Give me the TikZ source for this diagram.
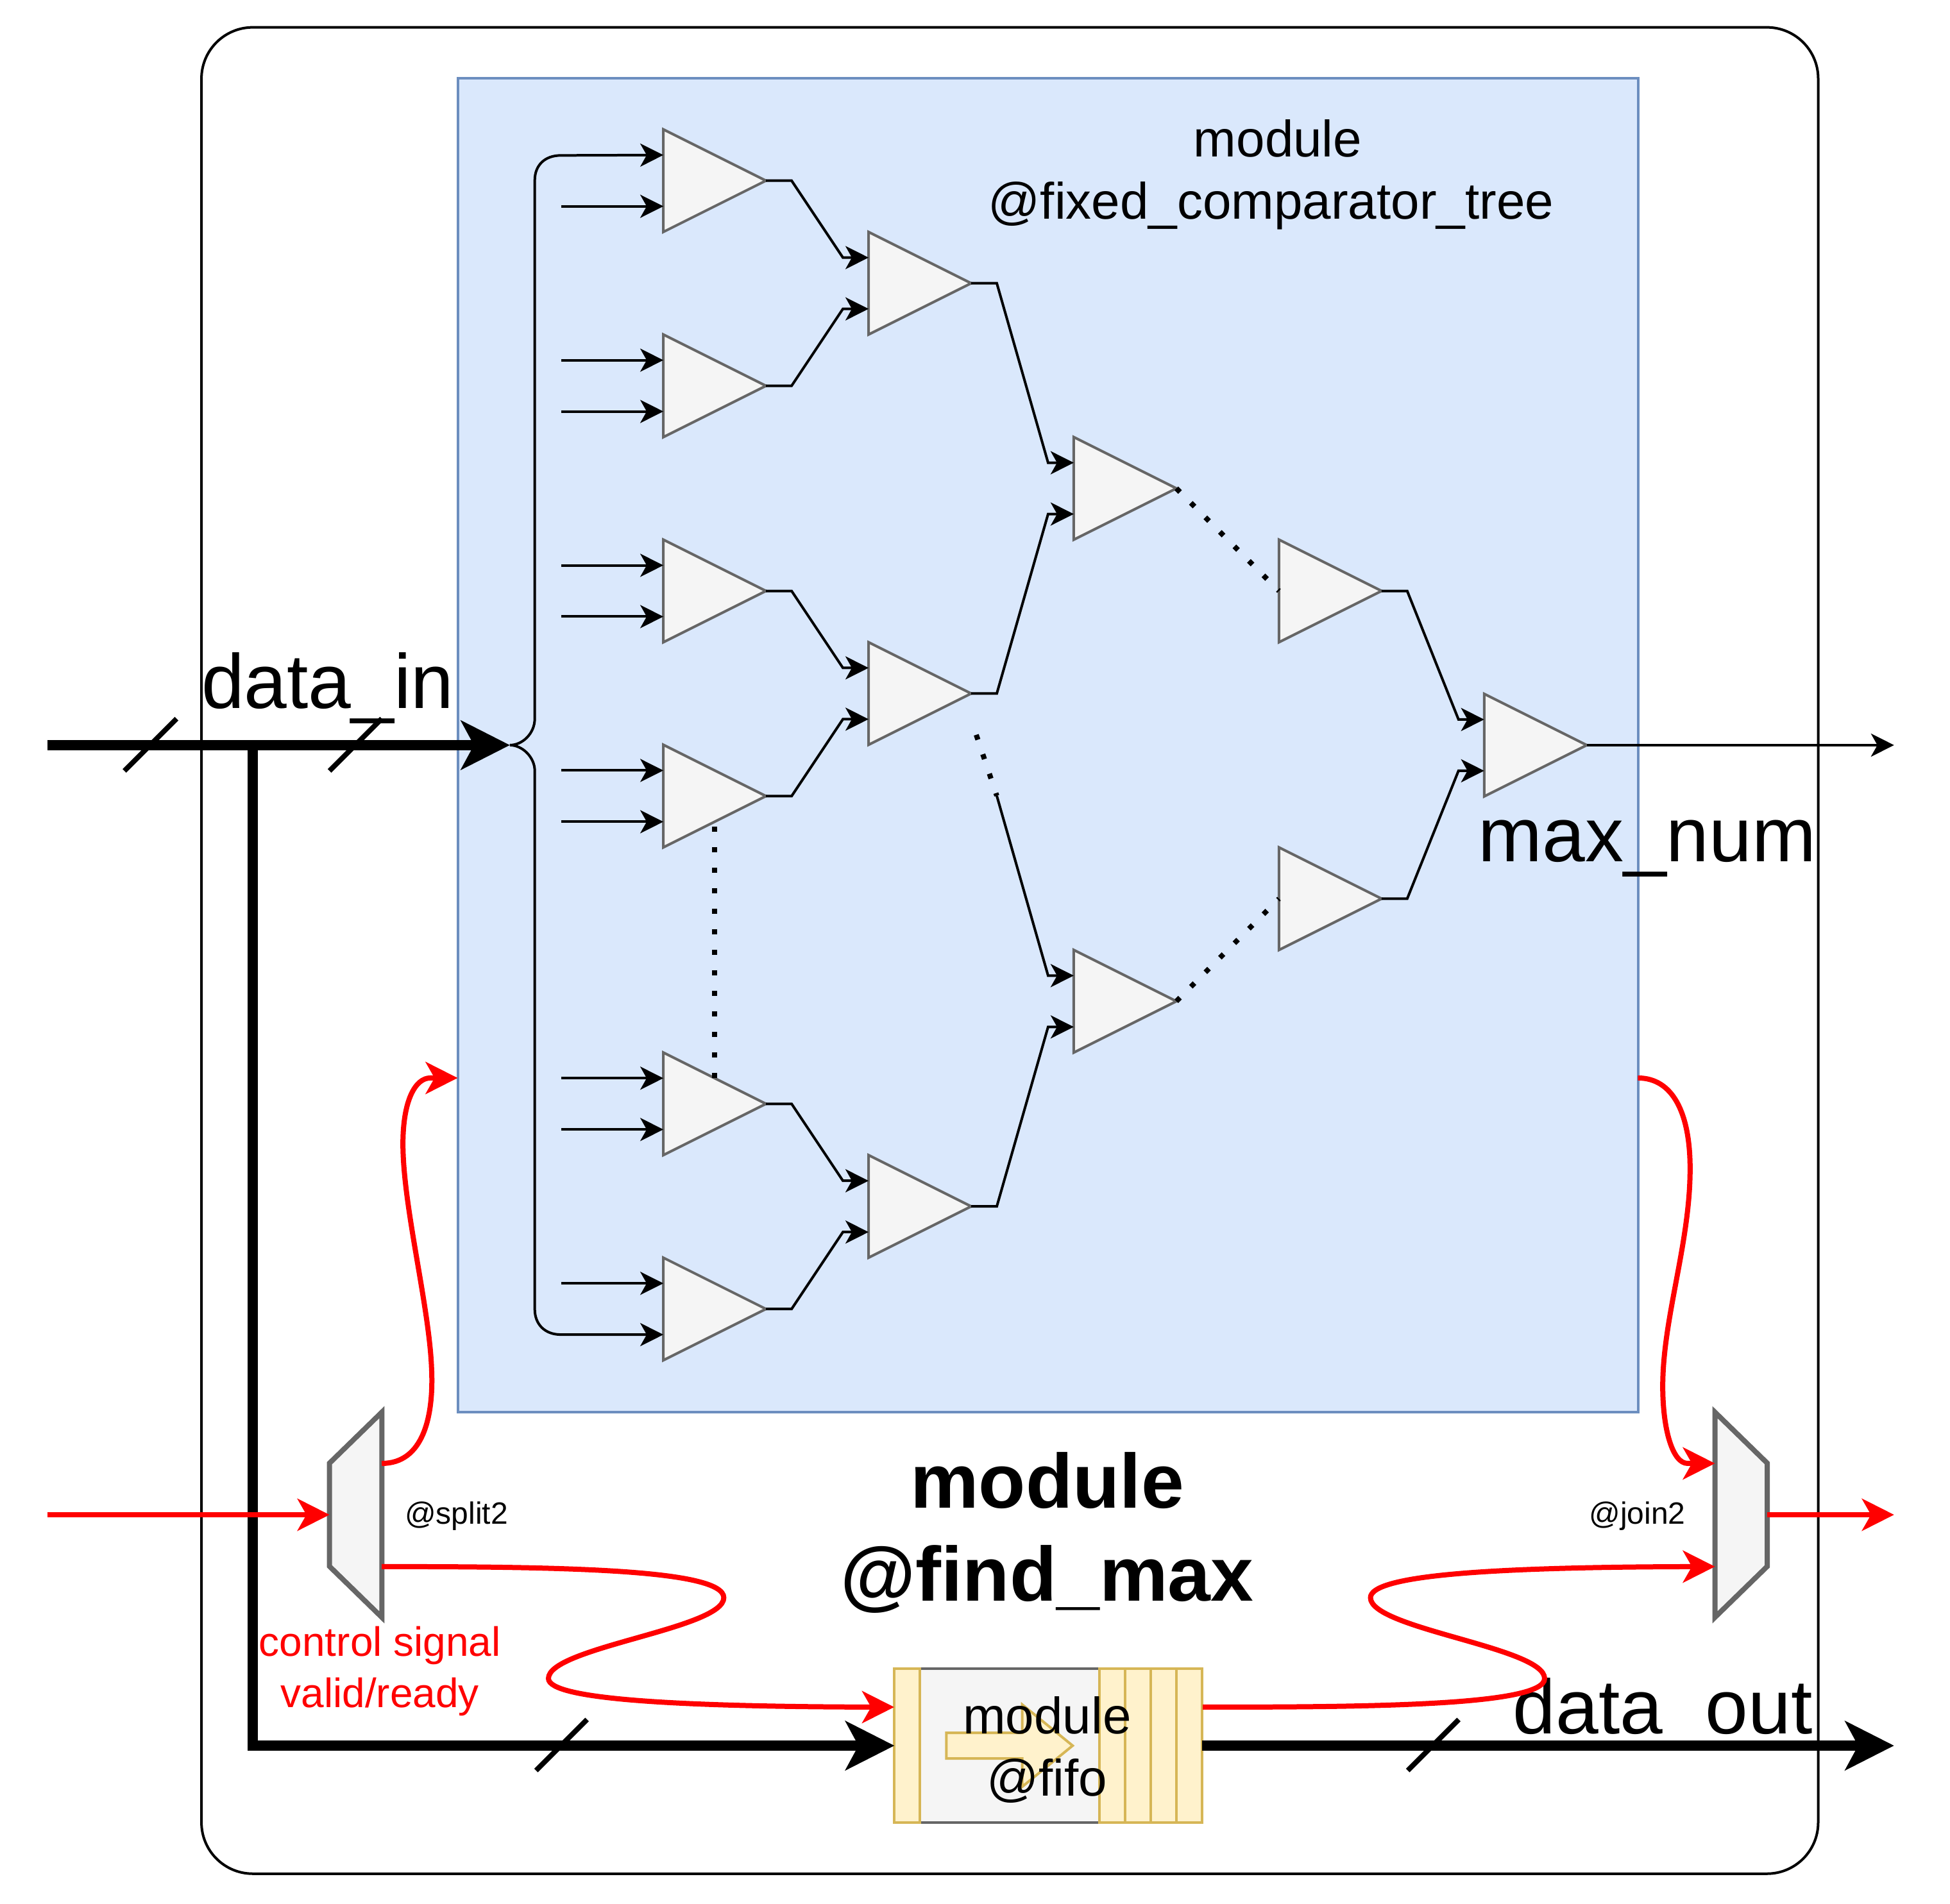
\documentclass[tikz,border=0pt]{standalone}
\usepackage{fontspec}
\setmainfont{Liberation Sans}
\usetikzlibrary{arrows.meta,calc,bending}
\newcommand{\fsz}[1]{\fontsize{#1}{#1}\selectfont}
\definecolor{blueF}{HTML}{DAE8FC}
\definecolor{blueS}{HTML}{6C8EBF}
\definecolor{grayF}{HTML}{F5F5F5}
\definecolor{grayS}{HTML}{666666}
\definecolor{yelF}{HTML}{FFF2CC}
\definecolor{yelS}{HTML}{D6B656}
\tikzset{
  x=0.484848pt,y=-0.484848pt,
  thinarrow/.style={-{Stealth[length=9pt,width=9pt,inset=2.5pt,flex=0]},line width=1pt,black},
  thinline/.style={line width=1pt,black},
  busline/.style={line width=4pt,black},
  busarrow/.style={-{Stealth[length=19pt,width=19pt,inset=5pt]},line width=4pt,black},
  redarrow/.style={-{Stealth[length=12.5pt,width=12.5pt,inset=3.5pt,flex=0]},line width=2pt,red},
  redline/.style={line width=2pt,red},
  tick/.style={line width=2pt,black},
  dots/.style={line width=2pt,black,dash pattern=on 2pt off 6pt},
  trianchor/.style={inner sep=0,outer sep=0,minimum width=40pt,minimum height=40pt},
  tribody/.style={draw=grayS,fill=grayF,line width=1pt,line join=miter},
  muxanchor/.style={inner sep=0,outer sep=0,minimum width=20.4pt,minimum height=80pt},
  muxbody/.style={draw=grayS,fill=grayF,line width=2pt,line join=miter},
  cell/.style={draw=yelS,fill=yelF,line width=1pt,inner sep=0,outer sep=0,minimum width=10pt,minimum height=60pt},
  label/.style={inner sep=0,outer sep=0,anchor=base,align=center},
}
% triangle comparator
\newcommand{\tri}[3]{%
  \node[trianchor] (#1) at (#2,#3) {};
  \draw[tribody] (#1.north west) -- (#1.east) -- (#1.south west) -- cycle;
  \coordinate (#1a) at ($(#1.west)+(0,10pt)$);
  \coordinate (#1b) at ($(#1.west)+(0,-10pt)$);
}
% free input
\newcommand{\inp}[1]{%
  \coordinate (f#1) at ($(#1)+(-82,0)$);
  \draw[thinarrow] (f#1) -- (#1);
}
% comparator output to comparator input
\newcommand{\lnk}[2]{%
  \draw[thinarrow] (#1.east) -- ++(10pt,0) -- ($(#2)+(-10pt,0)$) -- (#2);
}
\begin{document}
\begin{tikzpicture}
\useasboundingbox (0,0) rectangle (1568,1530.9);
\fill[white] (0,0) rectangle (1568,1530.9);
% enclosing module
\node[draw=black,line width=1pt,rounded corners=20pt,inner sep=0,outer sep=0,minimum width=630.3pt,minimum height=720pt] (outer) at (812,764.5) {};
% comparator tree module
\node[draw=blueS,fill=blueF,line width=1pt,inner sep=0,outer sep=0,minimum width=460pt,minimum height=520.1pt] (tree) at (842.7,599.3) {};
% labels behind lines
\node[label,font=\fsz{20}] (tt1) at (1027.5,126) {module};
\node[label,font=\fsz{20}] (tt2) at (1022,176) {@fixed\_comparator\_tree};
\node[label,font=\fsz{30}] (din) at (263.5,569.5) {data\_in};
\node[label,font=\fsz{30}] (mnum) at (1324.5,693) {max\_num};
\node[label,font=\fsz{30}] (dout) at (1337,1394.4) {data\_out};
\node[label,font=\bfseries\fsz{30}] (m1) at (842,1213) {module};
\node[label,font=\bfseries\fsz{30}] (m2) at (842,1287.6) {@find\_max};
\node[label,font=\fsz{12}] (sp) at (367,1226) {@split2};
\node[label,font=\fsz{12}] (jo) at (1316.5,1226) {@join2};
\node[label,font=\fsz{16},text=red] (cs1) at (305.5,1332) {control signal};
\node[label,font=\fsz{16},text=red] (cs2) at (305.5,1373.5) {valid/ready};
% comparators
\tri{a1}{574.65}{145.3}
\tri{a2}{574.65}{310.3}
\tri{a3}{574.65}{475.3}
\tri{a4}{574.65}{640.3}
\tri{a5}{574.65}{887.8}
\tri{a6}{574.65}{1052.8}
\tri{b1}{739.65}{227.8}
\tri{b2}{739.65}{557.8}
\tri{b3}{739.65}{970.3}
\tri{c1}{904.65}{392.8}
\tri{c2}{904.65}{805.3}
\tri{d1}{1069.65}{475.3}
\tri{d2}{1069.65}{722.8}
\tri{e1}{1234.65}{599.3}
% free inputs
\inp{a1b}
\inp{a2a}\inp{a2b}
\inp{a3a}\inp{a3b}
\inp{a4a}\inp{a4b}
\inp{a5a}\inp{a5b}
\inp{a6a}
% output links
\lnk{a1}{b1a}\lnk{a2}{b1b}
\lnk{a3}{b2a}\lnk{a4}{b2b}
\lnk{a5}{b3a}\lnk{a6}{b3b}
\lnk{b1}{c1a}\lnk{b2}{c1b}\lnk{b3}{c2b}
\lnk{d1}{e1a}\lnk{d2}{e1b}
% dotted parts
\coordinate (gap1) at (785,591);
\coordinate (gap2) at (801.5,640);
\draw[dots] (gap1) -- (gap2);
\draw[thinarrow] (gap2) -- ($(c2a)+(-10pt,0)$) -- (c2a);
\coordinate (vd1) at (574.5,665);
\coordinate (vd2) at (574.5,868);
\draw[dots] (vd1) -- (vd2);
\draw[dots] (c1.east) -- (d1.west);
\draw[dots] (c2.east) -- (d2.west);
% output of tree
\coordinate (outEnd) at (1523,599.3);
\draw[thinarrow] (e1.east) -- (outEnd);
% input fan-out
\coordinate (busIn) at (38,599.3);
\coordinate (fan) at (410,599.3);
\draw[thinarrow] (fan) .. controls (420,599.3) and (430,590) .. (430,578) -- (430,145) .. controls (430,133) and (438,125) .. (451,125) -- (a1a);
\draw[thinarrow] (fan) .. controls (420,599.3) and (430,609) .. (430,620) -- (430,1053) .. controls (430,1065) and (438,1073.4) .. (451,1073.4) -- (a6b);
% fifo
\node[draw=grayS,fill=grayF,line width=1pt,inner sep=0,outer sep=0,minimum width=70pt,minimum height=60pt] (fifo) at (812,1404) {};
\node[cell] (q0) at (729.5,1404) {};
\node[cell] (q1) at (894.5,1404) {};
\node[cell] (q2) at (915.2,1404) {};
\node[cell] (q3) at (935.8,1404) {};
\node[cell] (q4) at (956.4,1404) {};
\draw[draw=yelS,fill=yelF,line width=1pt] (761,1393.7) -- (822,1393.7) -- (822,1371) -- (862.5,1404) -- (822,1437) -- (822,1414.3) -- (761,1414.3) -- cycle;
\node[label,font=\fsz{20}] (ff1) at (842,1394.5) {module};
\node[label,font=\fsz{20}] (ff2) at (842,1444.5) {@fifo};
% buses
\draw[busarrow] (busIn) -- (fan);
\coordinate (busT) at (203,599.3);
\coordinate (busC) at (203,1404);
\draw[busarrow] (busT) -- (busC) -- (q0.west);
\coordinate (busOut) at (1523,1404);
\draw[busarrow] (q4.east) -- (busOut);
% bus ticks
\coordinate (t1a) at (100,620); \coordinate (t1b) at (142,578);
\coordinate (t2a) at (265,620); \coordinate (t2b) at (307,578);
\coordinate (t3a) at (431,1424); \coordinate (t3b) at (472,1383);
\coordinate (t4a) at (1132,1424); \coordinate (t4b) at (1173,1383);
\draw[tick] (t1a) -- (t1b);
\draw[tick] (t2a) -- (t2b);
\draw[tick] (t3a) -- (t3b);
\draw[tick] (t4a) -- (t4b);
% split and join
\node[muxanchor] (split) at (286,1218.3) {};
\draw[muxbody] (split.north east) -- (split.south east) -- ($(split.south west)+(0,-41)$) -- ($(split.north west)+(0,41)$) -- cycle;
\node[muxanchor] (join) at (1400,1218.3) {};
\draw[muxbody] (join.north west) -- (join.south west) -- ($(join.south east)+(0,-41)$) -- ($(join.north east)+(0,41)$) -- cycle;
\coordinate (sU) at (307,1177); \coordinate (sL) at (307,1260);
\coordinate (jU) at (1379,1177); \coordinate (jL) at (1379,1260);
\coordinate (ctlIn) at (38,1218.3);
\coordinate (ctlOut) at (1523,1218.3);
\coordinate (treeL) at (368,867);
\coordinate (treeR) at (1317,867);
\coordinate (qL) at (719,1373);
\coordinate (qR) at (967,1373);
% control signals
\draw[redarrow] (ctlIn) -- (split.west);
\draw[redarrow] (join.east) -- (ctlOut);
\draw[redarrow] (sU) .. controls (340,1177) and (349,1140) .. (347,1100) .. controls (345,1050) and (324,970) .. (324,920) .. controls (324,885) and (334,867) .. (346,867) -- (treeL);
\draw[redarrow] (treeR) .. controls (1345,867) and (1359,895) .. (1359,940) .. controls (1359,1000) and (1337,1060) .. (1337,1115) .. controls (1337,1150) and (1345,1177) .. (1357,1177) -- (jU);
\draw[redarrow] (sL) .. controls (450,1260) and (582,1262) .. (582,1285) .. controls (582,1310) and (441,1325) .. (441,1350) .. controls (441,1368) and (560,1373) .. (qL);
\draw[redarrow] (qR) .. controls (1100,1373) and (1242,1372) .. (1242,1350) .. controls (1242,1325) and (1102,1310) .. (1102,1285) .. controls (1102,1265) and (1220,1260) .. (jL);
\end{tikzpicture}
\end{document}
